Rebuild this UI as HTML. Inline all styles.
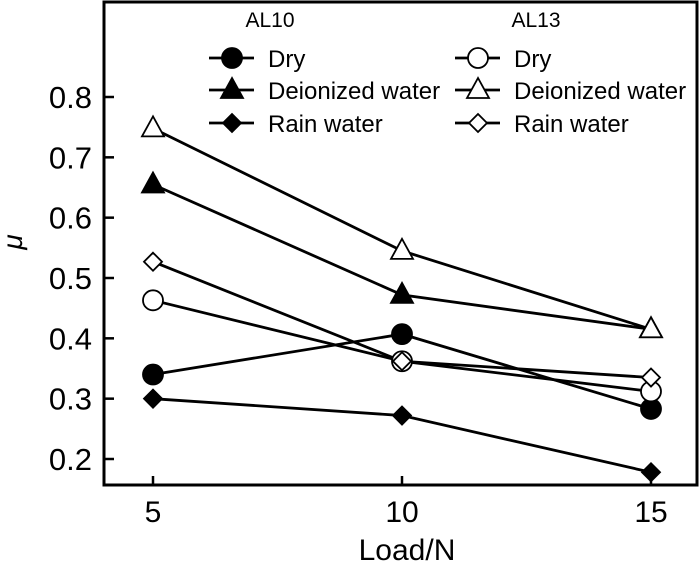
<!DOCTYPE html>
<html><head><meta charset="utf-8"><style>body{margin:0;background:#fff}svg{display:block}text{font-family:"Liberation Sans",sans-serif;fill:#000}</style></head>
<body>
<svg id="c" width="700" height="562"></svg>
<script>
const loads=[5,10,15];
const yTicks=[0.2,0.3,0.4,0.5,0.6,0.7,0.8];
const al10Dry=[0.34,0.407,0.283];
const al10Deion=[0.655,0.472,0.415];
const al10Rain=[0.30,0.272,0.178];
const al13Dry=[0.463,0.362,0.312];
const al13Deion=[0.748,0.545,0.415];
const al13Rain=[0.527,0.362,0.335];
const NS='http://www.w3.org/2000/svg';
const svg=document.getElementById('c');
const L=104,R=697,T=2,B=485;
const xs=v=>153+(v-5)*(651-153)/10;
const ys=v=>97+(0.8-v)*(459-97)/0.6;
function el(t,a,p){const e=document.createElementNS(NS,t);for(const k in a)e.setAttribute(k,a[k]);(p||svg).appendChild(e);return e;}
const frame=el('rect',{x:L,y:T,width:R-L,height:B-T,fill:'none',stroke:'#000','stroke-width':3});


yTicks.forEach(v=>{
 const t=el('line',{x1:L,x2:L+10,y1:ys(v),y2:ys(v),stroke:'#000','stroke-width':2.5});
 
 
 const tx=el('text',{x:92,y:ys(v)+11,'text-anchor':'end','font-size':31});tx.textContent=v.toFixed(1);
 
 
});
loads.forEach(v=>{
 const t=el('line',{x1:xs(v),x2:xs(v),y1:B-9,y2:B,stroke:'#000','stroke-width':2.5});
 
 
 const tx=el('text',{x:xs(v),y:522,'text-anchor':'middle','font-size':30});tx.textContent=v;
 
 
});
const xt=el('text',{x:407,y:560,'text-anchor':'middle','font-size':30});xt.textContent='Load/N';


const yt=el('text',{x:0,y:0,'text-anchor':'middle','font-size':28,'font-style':'italic',transform:'translate(22,242) rotate(-90)'});yt.textContent='μ';


function marker(shape,fill,x,y,g){
 const f=fill?'#000':'#fff';let m;
 if(shape==='circle')m=el('circle',{cx:x,cy:y,r:10,fill:f,stroke:'#000','stroke-width':1.8},g);
 else if(shape==='tri')m=el('polygon',{points:`${x},${y-12} ${x-11},${y+8} ${x+11},${y+8}`,fill:f,stroke:'#000','stroke-width':1.8},g);
 else m=el('polygon',{points:`${x},${y-9} ${x+9},${y} ${x},${y+9} ${x-9},${y}`,fill:f,stroke:'#000','stroke-width':1.8},g);
 
 
}
const series=[[al10Dry,'circle',1,'al10-dry'],[al10Deion,'tri',1,'al10-deionized'],[al10Rain,'dia',1,'al10-rain'],[al13Dry,'circle',0,'al13-dry'],[al13Deion,'tri',0,'al13-deionized'],[al13Rain,'dia',0,'al13-rain']];
series.forEach(s=>{
 const g=el('g',{});
 
 
 el('polyline',{points:s[0].map((v,i)=>xs(loads[i])+','+ys(v)).join(' '),fill:'none',stroke:'#000','stroke-width':2.8},g);
});
series.forEach(s=>{const g=el('g',{});s[0].forEach((v,i)=>marker(s[1],s[2],xs(loads[i]),ys(v),g));});
const lg=el('g',{});


const h1=el('text',{x:270,y:27,'text-anchor':'middle','font-size':21},lg);h1.textContent='AL10';
const h2=el('text',{x:536,y:27,'text-anchor':'middle','font-size':21},lg);h2.textContent='AL13';
const names=['Dry','Deionized water','Rain water'];const shapes=['circle','tri','dia'];
const rows=[58,90,123];
[[209,1],[455,0]].forEach(([x0,f])=>{
 rows.forEach((y,i)=>{
  const g=el('g',{},lg);
  
  
  el('line',{x1:x0,x2:x0+45,y1:y,y2:y,stroke:'#000','stroke-width':2.8},g);
  marker(shapes[i],f,x0+23,y,g);
  const t=el('text',{x:x0+59,y:y+9,'font-size':24},g);t.textContent=names[i];
 });
});
</script>
</body></html>
